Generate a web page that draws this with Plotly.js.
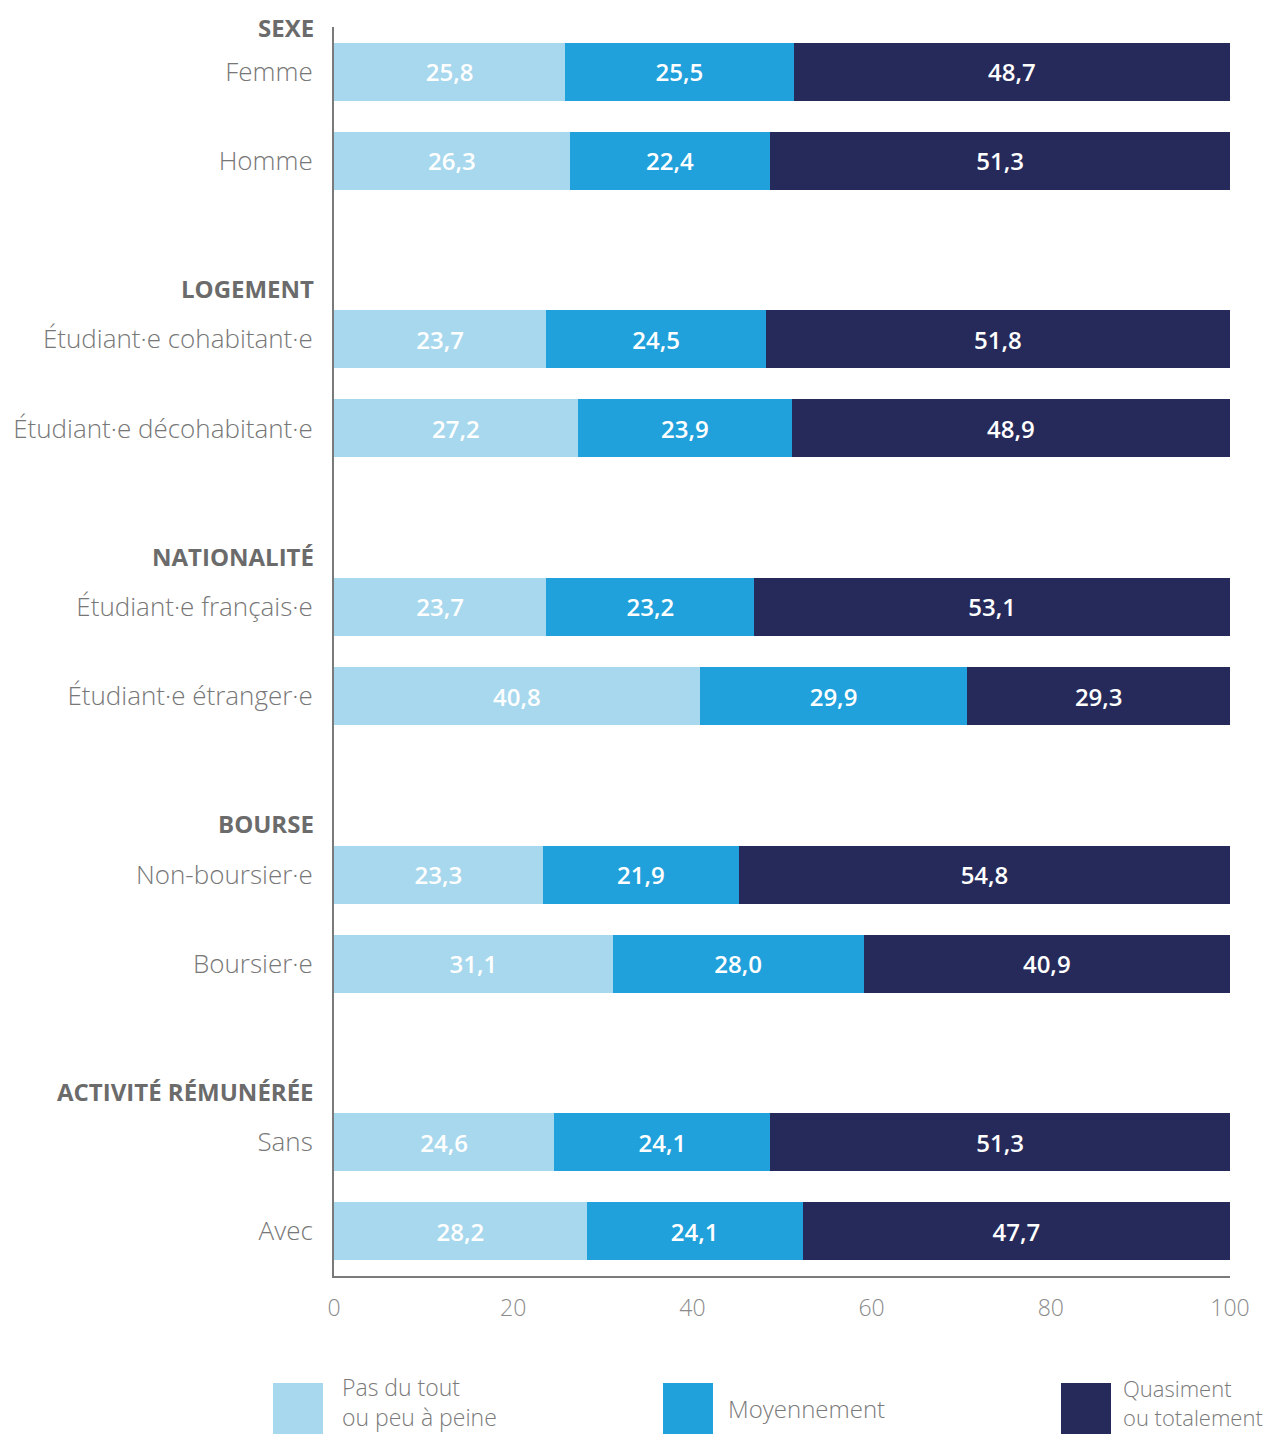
<!DOCTYPE html>
<html>
<head>
<meta charset="utf-8">
<script src="https://cdn.plot.ly/plotly-3.0.1.min.js"></script>
<style>html,body{margin:0;padding:0;background:#fff;}#chart{width:1276px;height:1434px;}</style>
</head>
<body>
<div id="chart"></div>
<script>
// ---- data ----
const groupHeaders = ["SEXE", "LOGEMENT", "NATIONALITÉ", "BOURSE", "ACTIVITÉ RÉMUNÉRÉE"];
const groupItems = [
  ["Femme", "Homme"],
  ["Étudiant·e cohabitant·e", "Étudiant·e décohabitant·e"],
  ["Étudiant·e français·e", "Étudiant·e étranger·e"],
  ["Non-boursier·e", "Boursier·e"],
  ["Sans", "Avec"]
];
const seriesNames = ["Pas du tout<br>ou peu à peine", "Moyennement", "Quasiment<br>ou totalement"];
const pasDuTout    = [25.8, 26.3, 23.7, 27.2, 23.7, 40.8, 23.3, 31.1, 24.6, 28.2];
const moyennement  = [25.5, 22.4, 24.5, 23.9, 23.2, 29.9, 21.9, 28.0, 24.1, 24.1];
const quasiment    = [48.7, 51.3, 51.8, 48.9, 53.1, 29.3, 54.8, 40.9, 51.3, 47.7];
const xTicks = [0, 20, 40, 60, 80, 100];

// ---- styles ----
const colors = ["#a7d8ed", "#21a1dc", "#252a5a"];
const FONT = "'Open Sans', 'Noto Sans', sans-serif";

// slot positions: each group takes its items plus one blank slot
const labels = [], slots = [], headerSlots = [];
let s = 0;
groupItems.forEach((items, g) => {
  headerSlots.push(s);
  items.forEach(it => { labels.push(it); slots.push(s); s++; });
  s++;
});

const series = [pasDuTout, moyennement, quasiment];
const traces = series.map((vals, i) => ({
  type: "bar",
  orientation: "h",
  x: vals,
  y: slots,
  name: seriesNames[i],
  width: 0.65,
  marker: {color: colors[i], line: {width: 0}},
  texttemplate: "%{x:.1f}",
  textposition: "inside",
  insidetextanchor: "middle",
  textangle: 0,
  textfont: {family: FONT, size: 24, color: "#ffffff", weight: 600},
  hoverinfo: "none",
  showlegend: false
}));

const annotations = groupHeaders.map((h, g) => ({
  text: h,
  xref: "paper", yref: "y",
  x: 0, y: headerSlots[g] - (g === 0 ? 0.5 : 0.57),
  xanchor: "right", yanchor: "middle",
  xshift: -18,
  showarrow: false,
  font: {family: FONT, size: 24, color: "#6b6b6b", weight: 700}
}));

// custom legend
const legendX = [273, 663, 1061];
const legendTextDx = [67, 63, 60];
const legendTextY = [1402, 1408, 1402];
const legendSize = [23, 24, 22];
const shapes = [];
seriesNames.forEach((n, i) => {
  shapes.push({
    type: "rect", xref: "paper", yref: "paper", layer: "above",
    x0: (legendX[i] - 334) / 896, x1: (legendX[i] + 50 - 334) / 896,
    y0: -(1383 - 1276) / 1249, y1: -(1434 - 1276) / 1249,
    fillcolor: colors[i], line: {width: 0}
  });
  annotations.push({
    text: n, xref: "paper", yref: "paper",
    x: (legendX[i] + legendTextDx[i] - 334) / 896,
    y: -(legendTextY[i] - 1276) / 1249,
    xanchor: "left", yanchor: "middle", align: "left",
    showarrow: false,
    font: {family: FONT, size: legendSize[i], color: "#7a7a7a", weight: 300}
  });
});

const layout = {
  width: 1276, height: 1434,
  margin: {l: 334, r: 46, t: 27, b: 158},
  paper_bgcolor: "#ffffff", plot_bgcolor: "#ffffff",
  barmode: "stack",
  bargap: 0.35,
  separators: ", ",
  showlegend: false,
  font: {family: FONT},
  xaxis: {
    range: [0, 100], tickvals: xTicks, ticks: "", showgrid: false, zeroline: false,
    showline: true, linecolor: "#7a7a7a", linewidth: 2,
    tickfont: {family: FONT, size: 23, color: "#8a8a8a", weight: 300},
    ticklabelstandoff: 10, fixedrange: true
  },
  yaxis: {
    range: [13.5, -0.5], tickvals: slots, ticktext: labels, ticks: "",
    showgrid: false, zeroline: false,
    showline: true, linecolor: "#7a7a7a", linewidth: 2,
    tickfont: {family: FONT, size: 26, color: "#777777", weight: 300},
    ticklabelstandoff: 14, fixedrange: true
  },
  annotations: annotations,
  shapes: shapes
};

Plotly.newPlot("chart", traces, layout, {displayModeBar: false, staticPlot: true});
</script>
</body>
</html>
